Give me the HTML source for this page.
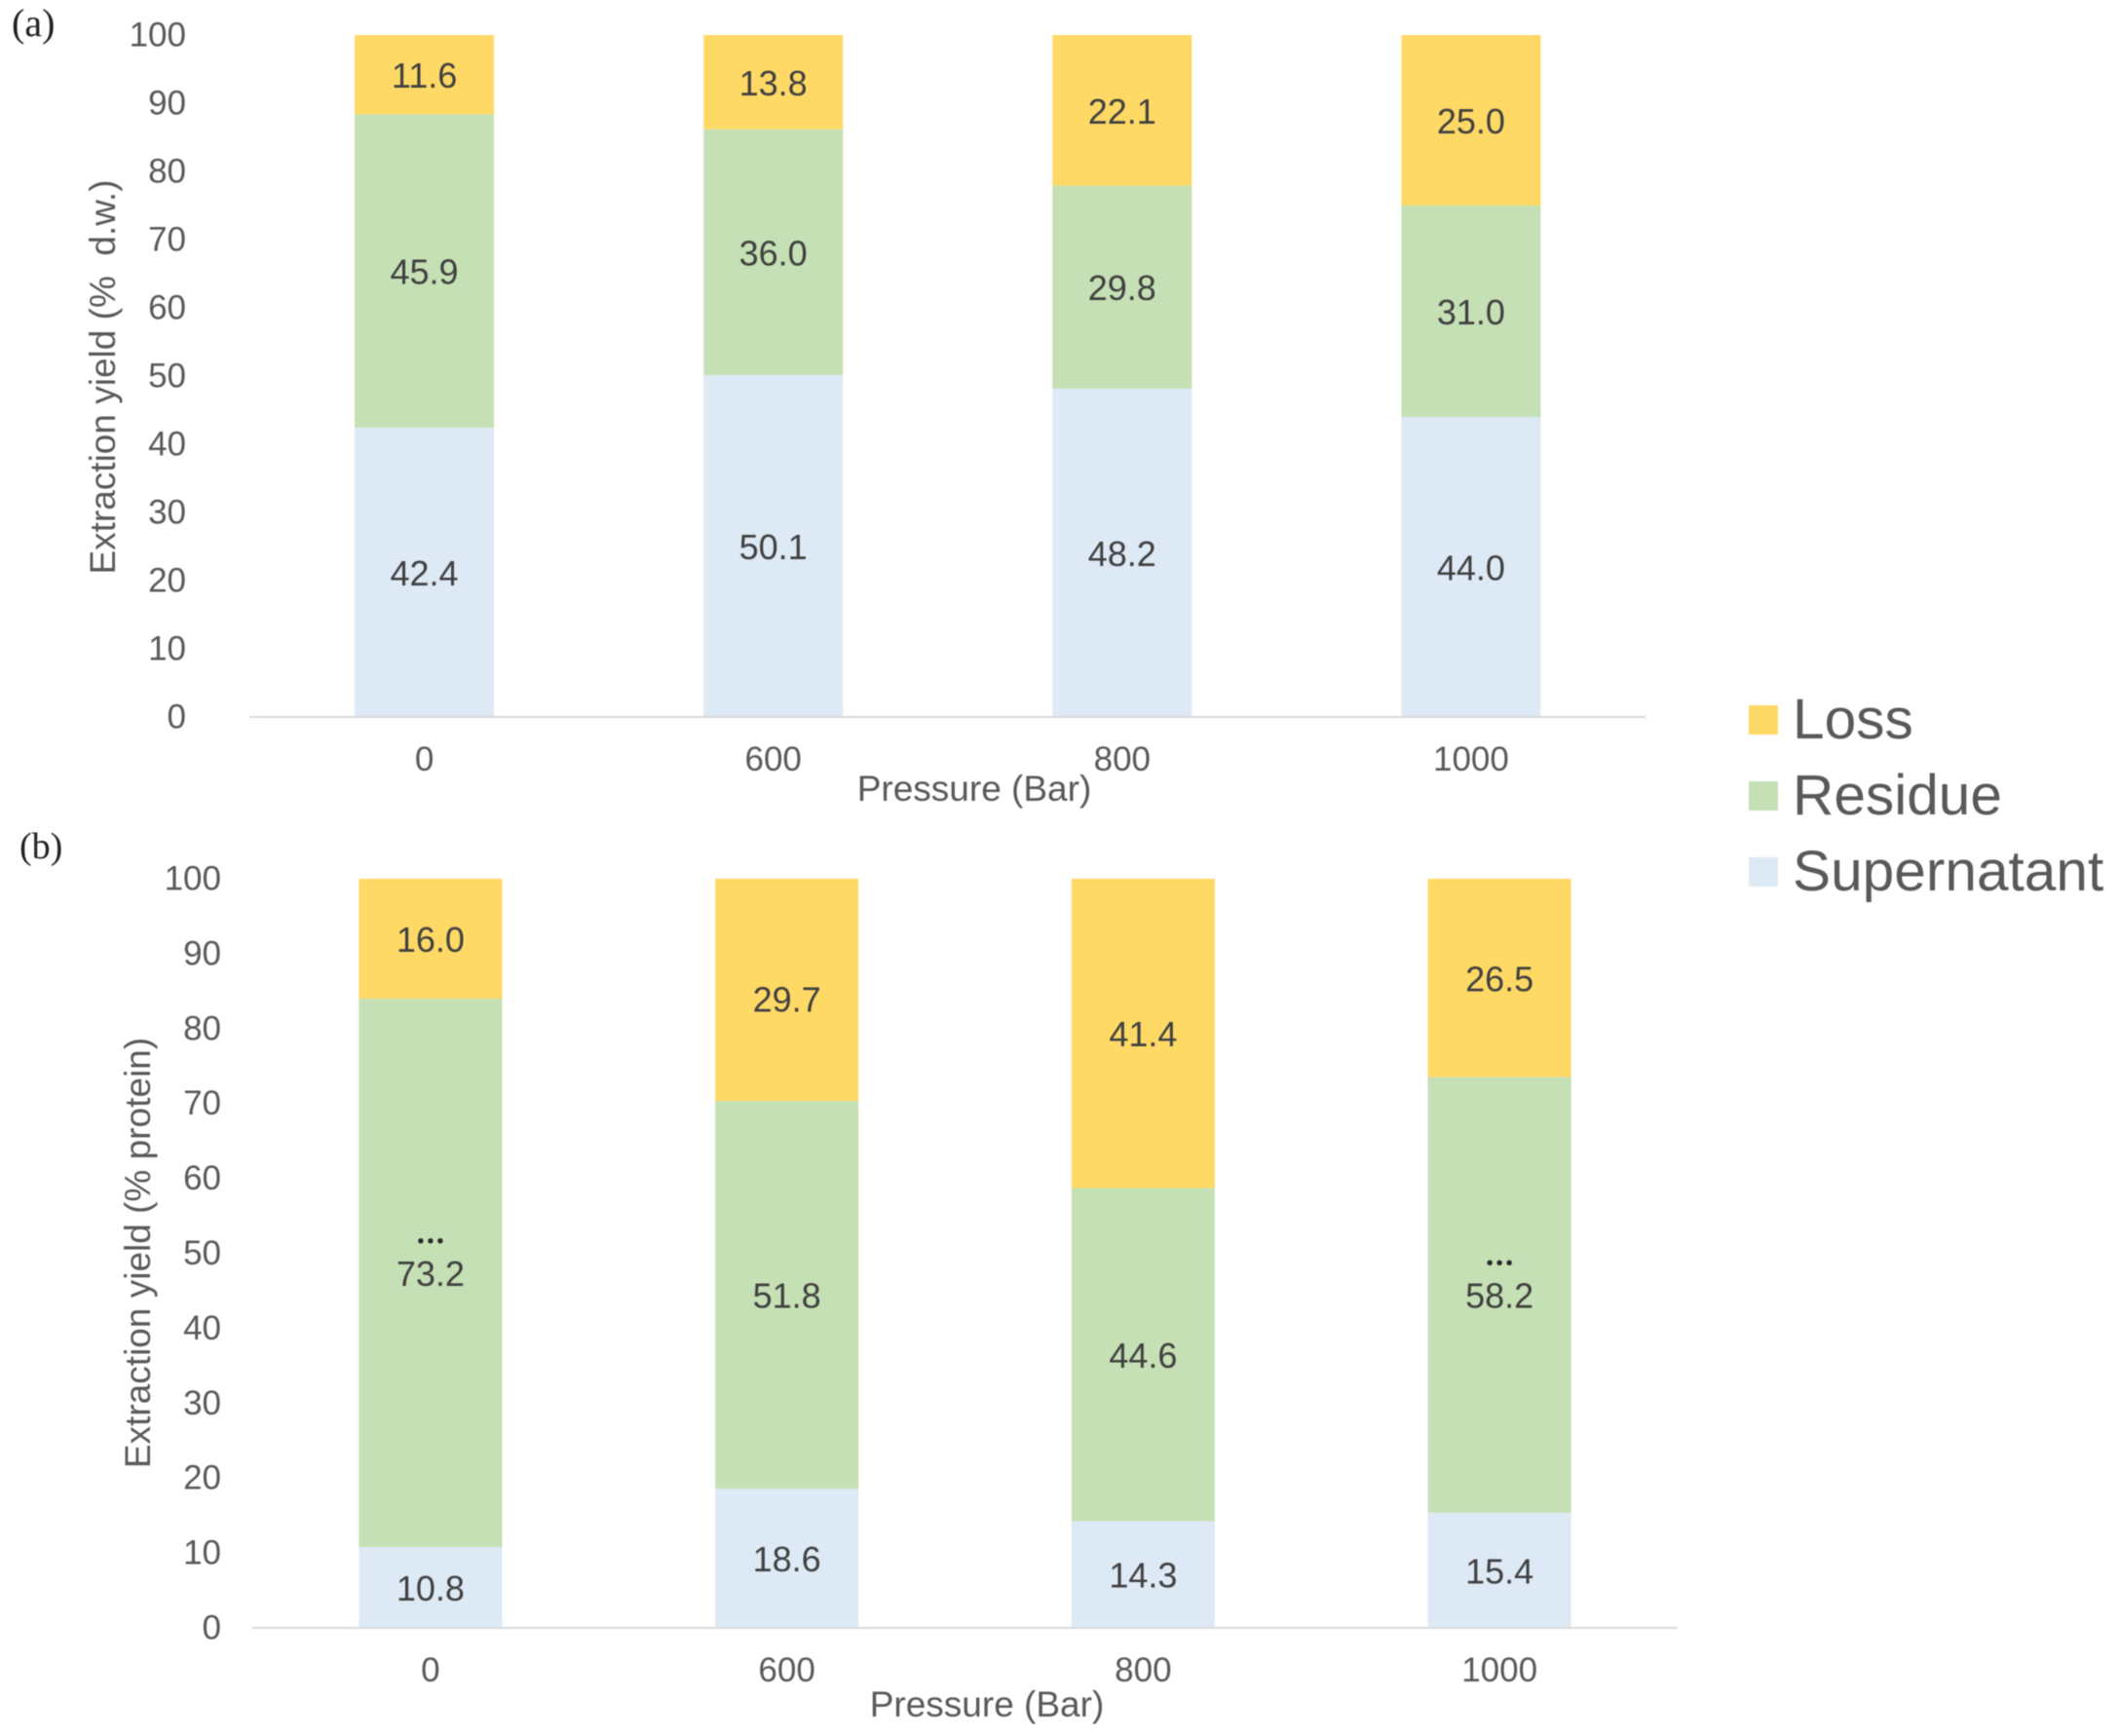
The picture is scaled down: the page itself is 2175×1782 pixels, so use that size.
<!DOCTYPE html>
<html lang="en">
<head>
<meta charset="utf-8">
<title>Extraction yield stacked bar charts</title>
<style>
html,body{margin:0;padding:0;background:#fff;}
svg{display:block;font-family:"Liberation Sans",Arial,sans-serif;filter:blur(0.6px);}
</style>
</head>
<body>
<svg id="chart" xmlns="http://www.w3.org/2000/svg" width="2175" height="1782" viewBox="0 0 2175 1782">
  <rect x="0" y="0" width="2175" height="1782" fill="#ffffff"/>
  <g id="panels"></g>
  <g id="legend"></g>
</svg>
<script>
const categories = ['0', '600', '800', '1000'];
const yTickLabels = [0, 10, 20, 30, 40, 50, 60, 70, 80, 90, 100];
const seriesNames = ['Supernatant', 'Residue', 'Loss'];
const legendNames = ['Loss', 'Residue', 'Supernatant'];

const supernatantA = [42.4, 50.1, 48.2, 44.0];
const residueA = [45.9, 36.0, 29.8, 31.0];
const lossA = [11.6, 13.8, 22.1, 25.0];

const supernatantB = [10.8, 18.6, 14.3, 15.4];
const residueB = [73.2, 51.8, 44.6, 58.2];
const lossB = [16.0, 29.7, 41.4, 26.5];

const starsA = ['', '', '', ''];
const starsB = ['***', '', '', '***'];

const colors = { Supernatant: '#DDE9F5', Residue: '#C5E0B4', Loss: '#FFD966' };
const svgNS = 'http://www.w3.org/2000/svg';

function addText(parent, x, y, str, size, fill, anchor) {
  const t = document.createElementNS(svgNS, 'text');
  t.setAttribute('x', x);
  t.setAttribute('y', y);
  t.setAttribute('font-size', size);
  t.setAttribute('fill', fill);
  t.setAttribute('text-anchor', anchor || 'middle');
  t.textContent = str;
  parent.appendChild(t);
  return t;
}

function drawPanel(cfg) {
  const root = document.getElementById('panels');
  const g = document.createElementNS(svgNS, 'g');
  
  
  root.appendChild(g);

  const yScale = v => cfg.bottom - (v / 100) * (cfg.bottom - cfg.top);
  const band = (cfg.right - cfg.left) / categories.length;
  const xCenter = i => cfg.left + band * (i + 0.5);

  const panelLabel = addText(g, cfg.tagX, cfg.tagY, cfg.tag, cfg.tagSize, '#222222', 'start');
  panelLabel.setAttribute('font-family', '"Liberation Serif", serif');
  
  

  yTickLabels.forEach(v => {
    const t = addText(g, cfg.tickX, yScale(v) + 11.5, String(v), 35, '#595959', 'end');
    
    
  });

  categories.forEach((c, i) => {
    const total = cfg.series.reduce((s, arr) => s + arr[i], 0);
    let cum = 0;
    cfg.series.forEach((arr, k) => {
      const start = cum / total * 100;
      cum += arr[i];
      const end = cum / total * 100;
      const r = document.createElementNS(svgNS, 'rect');
      r.setAttribute('x', xCenter(i) - cfg.barW / 2);
      r.setAttribute('y', yScale(end));
      r.setAttribute('width', cfg.barW);
      r.setAttribute('height', yScale(start) - yScale(end));
      r.setAttribute('fill', colors[seriesNames[k]]);
      
      
      g.appendChild(r);

      const mid = yScale((start + end) / 2);
      const nudge = (cfg.name === 'panel-b' && k === 2 && i === 1) ? 9 : 0;
      const lbl = addText(g, xCenter(i), mid + 13.5 + nudge, arr[i].toFixed(1), 36, '#404040');
      
      

      if (k === 1 && cfg.stars[i]) {
        const st = addText(g, xCenter(i) + 1.5, mid - 26, cfg.stars[i].replace(/\*/g, '\u2022'), 20, '#2a2a2a');
        st.setAttribute('letter-spacing', '3');
        
        
      }
    });

    const ct = addText(g, xCenter(i), cfg.catY, c, 35, '#595959');
    
    
  });

  const axis = document.createElementNS(svgNS, 'line');
  axis.setAttribute('x1', cfg.left);
  axis.setAttribute('x2', cfg.right);
  axis.setAttribute('y1', cfg.bottom);
  axis.setAttribute('y2', cfg.bottom);
  axis.setAttribute('stroke', '#D9D9D9');
  axis.setAttribute('stroke-width', 2);
  
  
  g.appendChild(axis);

  const xt = addText(g, cfg.xTitleX, cfg.xTitleY, 'Pressure (Bar)', 37, '#595959');
  
  

  const yt = addText(g, 0, 0, cfg.yTitle, 37, '#595959');
  yt.setAttribute('transform', 'translate(' + cfg.yTitleX + ',' + cfg.yTitleY + ') rotate(-90)');
  yt.setAttribute('xml:space', 'preserve');
  yt.setAttribute('style', 'white-space:pre');
  
  
}

drawPanel({
  name: 'panel-a', tag: '(a)', tagX: 12, tagY: 37, tagSize: 40,
  left: 256.5, right: 1689, top: 36, bottom: 736, barW: 143,
  tickX: 191, catY: 791, xTitleX: 1000, xTitleY: 822,
  yTitle: 'Extraction yield (%  d.w.)', yTitleX: 118, yTitleY: 387,
  series: [supernatantA, residueA, lossA], stars: starsA
});

drawPanel({
  name: 'panel-b', tag: '(b)', tagX: 20, tagY: 881, tagSize: 38,
  left: 259, right: 1722, top: 902, bottom: 1671, barW: 147,
  tickX: 227, catY: 1726, xTitleX: 1013, xTitleY: 1762,
  yTitle: 'Extraction yield (% protein)', yTitleX: 154, yTitleY: 1286,
  series: [supernatantB, residueB, lossB], stars: starsB
});

const legend = document.getElementById('legend');
legendNames.forEach((n, i) => {
  const row = 78 * i;
  const s = document.createElementNS(svgNS, 'rect');
  s.setAttribute('x', 1795);
  s.setAttribute('y', 724 + row);
  s.setAttribute('width', 30);
  s.setAttribute('height', 30);
  s.setAttribute('fill', colors[n]);
  
  
  legend.appendChild(s);
  const t = addText(legend, 1840, 758 + row, n, 58.6, '#595959', 'start');
  
  
});
</script>
</body>
</html>
